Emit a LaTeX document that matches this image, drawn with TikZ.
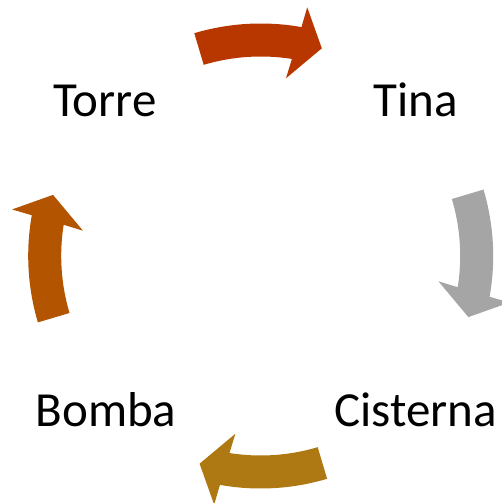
\documentclass[tikz,border=0pt]{standalone}
\usepackage{fontspec}
\setmainfont{Carlito}
\definecolor{arTop}{HTML}{B83700}
\definecolor{arRight}{HTML}{A5A5A5}
\definecolor{arBottom}{HTML}{AE7812}
\definecolor{arLeft}{HTML}{B35400}
\newcommand\cycarrow[2]{%
  \begin{scope}[shift={(C)},rotate=#1]
    \fill[#2] (106.6:232.5) arc[start angle=106.6,end angle=79.9,radius=232.5]
      -- (79.4:253) -- (73.6:216.5) -- (81.9:179.5) -- (81:199.5)
      arc[start angle=81,end angle=106.6,radius=199.5] -- cycle;
  \end{scope}}
\begin{document}
\begin{tikzpicture}[x=1pt,y=1pt,
  lbl/.style={anchor=base,inner sep=0pt,font=\fontsize{49}{58}\selectfont}]
\useasboundingbox (0,0) rectangle (501,503);
\coordinate (C) at (260.7,247);
\cycarrow{0}{arTop}
\cycarrow{-90}{arRight}
\cycarrow{180}{arBottom}
\cycarrow{90}{arLeft}
\node[lbl] (torre) at (105,386.3) {Torre};
\node[lbl] (tina) at (416,386.3) {Tina};
\node[lbl] (cisterna) at (415.5,76.3) {Cisterna};
\node[lbl] (bomba) at (106,76.3) {Bomba};
\end{tikzpicture}
\end{document}
